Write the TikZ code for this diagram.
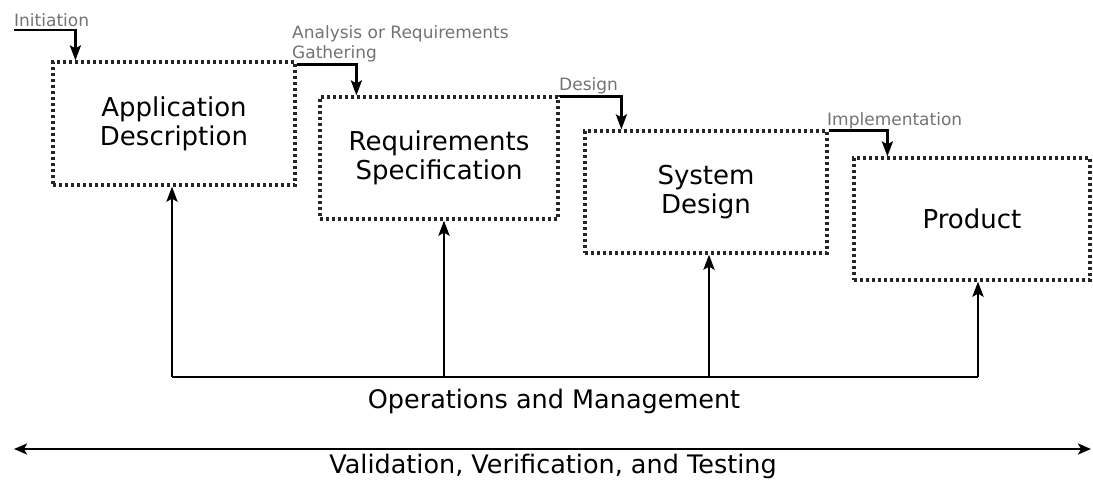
\documentclass[tikz,border=0pt]{standalone}
\usepackage{fontspec}
\setmainfont{DejaVu Sans}
\usetikzlibrary{arrows.meta,calc}
\begin{document}
\begin{tikzpicture}[x=1pt,y=-1pt,
  phase/.style={draw=black!85, line width=3.2pt, dash pattern=on 2.6pt off 3.4pt,
    rectangle, inner sep=0pt, align=center,
    font=\fontsize{26}{29}\selectfont},
  lbl/.style={text=black!55, font=\fontsize{17}{20}\selectfont, inner sep=0pt, align=left},
  flow/.style={line width=2.8pt, -{Stealth[length=15pt,width=11pt,inset=3pt]}},
  feed/.style={line width=2.8pt, -{Stealth[length=15pt,width=11pt,inset=3pt]}},
  big/.style={font=\fontsize{25.5}{29}\selectfont, inner sep=0pt}]
\useasboundingbox (0,0) rectangle (1093,483);

\node[phase, minimum width=242pt, minimum height=123pt] (b1) at (174,123.5) {Application\\Description};
\node[phase, minimum width=238pt, minimum height=122pt] (b2) at (439,158) {Requirements\\Specification};
\node[phase, minimum width=242pt, minimum height=122pt] (b3) at (706,192) {System\\Design};
\node[phase, minimum width=236pt, minimum height=122pt] (b4) at (972,219) {Product};

% top labels
\node[lbl, anchor=base west] (tinit) at (14,26) {Initiation};
\node[lbl, anchor=base west] (tana) at (292,38) {Analysis or Requirements};
\node[lbl, anchor=base west] (tgat) at (292,58) {Gathering};
\node[lbl, anchor=base west] (tdes) at (559,90) {Design};
\node[lbl, anchor=base west] (timp) at (827,125) {Implementation};

% phase flow connectors
\coordinate (start) at (14,30);
\draw[flow] (start) -| ($(b1.north west)+(24,0)$);
\draw[flow] ($(b1.north east)+(0,4)$) -| ($(b2.north west)+(38,0)$);
\draw[flow] ($(b2.north east)+(0,1)$) -| ($(b3.north west)+(38,0)$);
\draw[flow] ($(b3.north east)+(0,1)$) -| ($(b4.north west)+(35,0)$);

% operations and management
\coordinate (o1) at (172,377);
\coordinate (o4) at (978,377);
\draw[line width=2.8pt] (o1) -- (o4);
\draw[feed] (o1) -- (o1 |- b1.south);
\draw[feed] (444,377) -- (444,0 |- b2.south);
\draw[feed] (709,377) -- (709,0 |- b3.south);
\draw[feed] (o4) -- (o4 |- b4.south);
\node[big] (ops) at (554,401) {Operations and Management};

% validation
\coordinate (vl) at (14,449);
\coordinate (vr) at (1091,449);
\draw[line width=2.8pt, {Stealth[length=13pt,width=11pt,inset=3pt]}-{Stealth[length=13pt,width=11pt,inset=3pt]}] (vl) -- (vr);
\node[big] (val) at (553,466) {Validation, Verification, and Testing};
\end{tikzpicture}
\end{document}
